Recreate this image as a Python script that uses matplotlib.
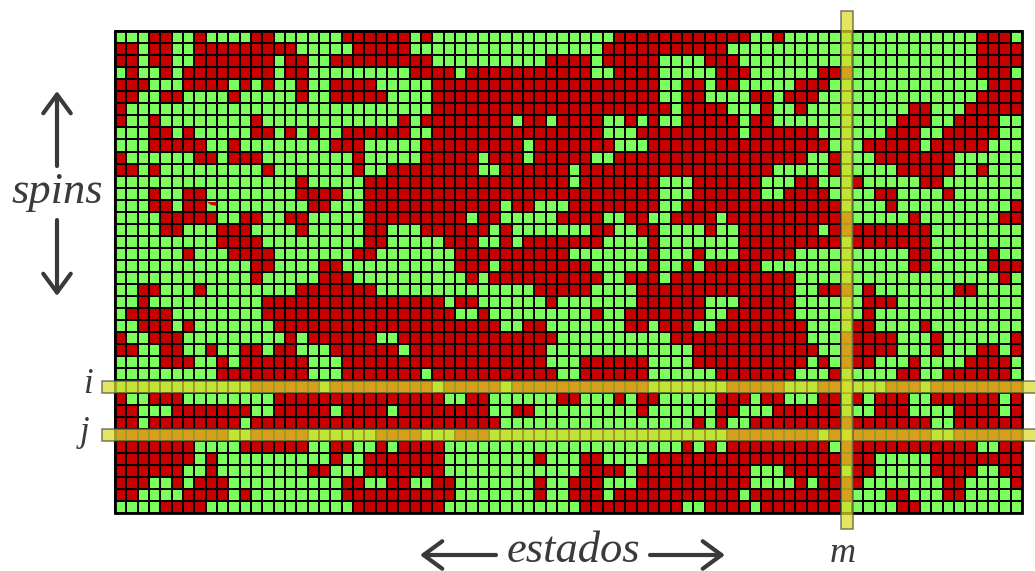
import numpy as np
import matplotlib
matplotlib.use('Agg')
from matplotlib import pyplot as plt
from matplotlib.colors import ListedColormap
from matplotlib.patches import Rectangle, Polygon

# 1 = spin rojo, 0 = spin verde
filas = [
'0001100100 0011000000 1111110100 0000000000 0000111111 1111110010 0000000000 0000001110',
'1101100111 1111110000 0111110000 0000000000 0001111111 1111000000 0000000000 0000001111',
'1101100111 1111011001 1111111100 0000000011 1101111100 0011100000 0000000000 0000001111',
'0100101111 1111011000 0000001111 0111111111 1100111100 0001110000 0011100000 0000001110',
'1110001111 0101001001 1110000011 1111111111 1111111100 1101100000 1110000000 0000000111',
'1100110000 1000001001 1111000011 1111111111 1111111100 1100001101 1100000000 0000001111',
'1000000000 0000000000 0000000011 1111111111 1111111110 1111000100 1000000000 1100011111',
'1001000000 0010000000 0000010111 1111101101 1110010100 1111101100 0000000001 1100111100',
'0001101000 0011010100 1111110011 1111111111 1110001111 1111101111 1100000011 1001111100',
'0001111100 1000000001 1100000111 1111110111 1111000111 1111111111 1110001111 1011111000',
'1000000110 1110000000 0100000111 1101110111 1100111111 1111111111 1001000111 1111000000',
'1101000000 0001000000 0100111111 1100111111 0111111111 1111111100 0001000001 1111001000',
'0000000000 0000001000 0011111111 1111111111 0111111100 0111111000 1100010000 0110000000',
'0001001100 0000001111 0011111111 1111111111 1111111100 0111111001 1110000110 0001000000',
'0001101100 0000000110 0011111111 1111011000 1111111100 1111111111 1111000010 0000000001',
'0000111110 0110011000 0011111111 1011000001 1110011001 1110111111 1111100000 1000000011',
'0000110001 1100001000 0011000111 1110100000 0011001100 0010011111 1101111111 1100000000',
'0000000001 1110000000 0011000001 1100101111 1110000100 0000011111 1111011111 1100000000',
'0000001000 1111000000 0110000000 1111111111 0000000100 0100011111 0000000000 1100000100',
'0000000000 0011000011 0000000000 1110111111 1100000100 1011111000 0000000000 1100000111',
'0000000000 0010000011 1000000000 0101111111 1110011101 1111111111 0000000000 0000000010',
'0011000100 0000001111 1110000000 0000000111 1100001111 1111111111 0011101000 0000110000',
'0010000000 0001111111 1111111110 1100000010 0000001111 1100011111 0000001110 0000000000',
'0111100000 0001111111 1111111111 0010000000 0010011111 1100111111 0000001000 0000000000',
'0011101000 0000111111 1111111111 1111001100 0000011011 1001111111 1000011000 0100000000',
'1001110000 0000010111 1110011111 1111111110 0000000001 1111111111 1000111110 0010000001',
'1100110010 0110110001 1111101111 1111111100 0000000000 0111111111 1100111110 0010001101',
'0000111001 0111111000 1111111111 1111111100 0111111000 0111111111 1010111000 1000011110',
'0000000001 1111111000 1111111011 1111111110 0111111000 0001111111 0001000001 1001111110',
'0000000000 0011111101 1111111101 1111011111 1111111000 0000111110 0011000011 1011111111',
'1001110000 0000111111 1111111110 0110000001 1000101100 0001110110 0011010111 0011111101',
'1100011111 1100111110 1111011111 1110011000 0000001000 0001100011 1111000111 0000111101',
'1101111111 1011111111 1111111111 1111000000 0000000000 0101001111 1111111111 1100111111',
'1111111111 0011111000 0001111000 1110000000 0000000000 0000111111 1101011111 1100111111',
'1111111000 0111111001 1001011110 0000000000 0000000000 1010111111 1110111111 1111110011',
'1111111010 0000000001 0011111110 0000000100 0110000111 1111111111 1111111000 0011111111',
'1111110010 0000000110 0011111110 0000000000 0111101111 1111110001 1111011000 0011110011',
'1110010111 0000000000 1100110011 0000000100 1110001111 1111110000 1011110000 0001100001',
'1100001111 0100000000 1111111111 0000000100 1110111111 1111101111 1111100011 0001100000',
'0000111100 0000000000 0111111110 0000000000 0111111111 0011110111 1111000001 1000000000',
]
fila_i = 29
fila_j = 33
col_m = 64

etiqueta_i = 'i'
etiqueta_j = 'j'
etiqueta_m = 'm'
etiqueta_spins = 'spins'
etiqueta_estados = 'estados'

verde = '#7CFF5C'
rojo = '#C80000'
amarillo = (220/255, 220/255, 41/255)
gris = '#3A3A3A'

m = np.array([[int(c) for c in f.replace(' ', '')] for f in filas])
nf, nc = m.shape

W, H = 1035, 571
fig = plt.figure(figsize=(W/100, H/100), dpi=100)

# rejilla principal
ax = fig.add_axes([115/W, 1-513/H, 907/W, 482/H])
ax.pcolormesh(m, cmap=ListedColormap([verde, rojo]), vmin=0, vmax=1)
ax.vlines(np.arange(nc+1), 0, nf, color='k', lw=1.45, clip_on=False)
ax.hlines(np.arange(nf+1), 0, nc, color='k', lw=1.45, clip_on=False)
ax.set_xlim(0, nc)
ax.set_ylim(nf, 0)
ax.axis('off')
ax.add_patch(Rectangle((0, 0), nc, nf, fill=False, ec='k', lw=2, clip_on=False))

# resto de pincel rojo en una celda
ax.add_patch(Polygon([(8.1, 14.2), (8.95, 14.2), (8.95, 14.5), (8.5, 14.45)], fc=rojo, ec='none', zorder=3))

# barras amarillas
for f in (fila_i, fila_j):
    ax.add_patch(Rectangle((-1.15, f+0.02), nc+1.15+1.2, 1.03, fc=amarillo+(0.725,),
                           ec=(0.3, 0.3, 0.3, 0.75), lw=1.1, clip_on=False, zorder=3))
ax.add_patch(Rectangle((col_m, -1.7), 1.05, nf+3.05, fc=amarillo+(0.725,),
                       ec=(0.3, 0.3, 0.3, 0.75), lw=1.1, clip_on=False, zorder=3))

# capa de textos en pixeles
tx = fig.add_axes([0, 0, 1, 1])
tx.set_xlim(0, W)
tx.set_ylim(H, 0)
tx.axis('off')
tx.patch.set_alpha(0)

fuente = {'family': 'Liberation Serif', 'style': 'italic', 'color': gris}
tx.text(57, 203, etiqueta_spins, fontsize=32, ha='center', va='baseline', **fuente)
tx.text(573, 562, etiqueta_estados, fontsize=32, ha='center', va='baseline', **fuente)
tx.text(88, 393, etiqueta_i, fontsize=25, ha='center', va='baseline', **fuente)
tx.text(85, 441, etiqueta_j, fontsize=25, ha='center', va='baseline', **fuente)
tx.text(843, 562, etiqueta_m, fontsize=26, ha='center', va='baseline', **fuente)

flecha = dict(arrowstyle='->,head_length=0.75,head_width=0.55', color=gris, lw=3,
              shrinkA=0, shrinkB=0, mutation_scale=18)
for ini, fin in [((57, 166), (57, 91)), ((57, 220), (57, 296)),
                 ((496, 555), (420, 555)), ((650, 555), (725, 555))]:
    tx.annotate('', xy=fin, xytext=ini, arrowprops=flecha)

fig.savefig('out.png', dpi=100)
